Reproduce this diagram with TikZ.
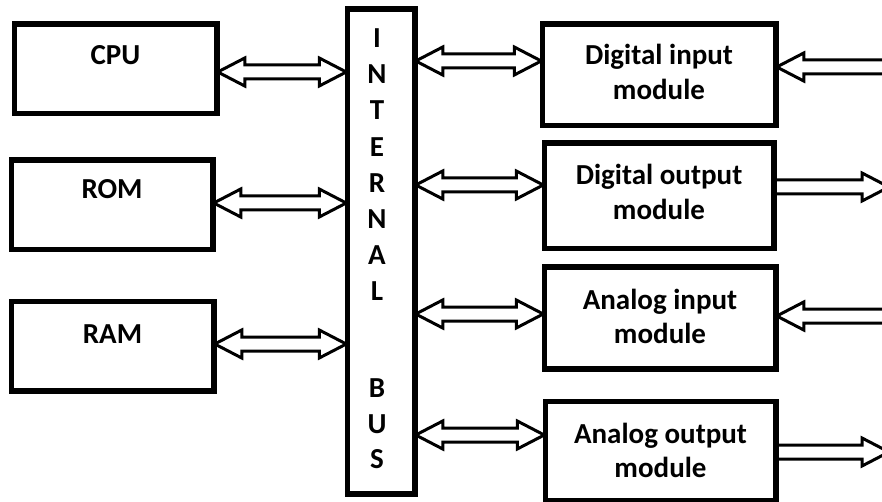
\documentclass[tikz,border=0pt]{standalone}
\usepackage{fontspec}
\setmainfont{Carlito}
\usetikzlibrary{calc}
\tikzset{
  box/.style={draw, line width=3.5pt, inner sep=0pt},
  lbl/.style={font=\fontsize{29}{35}\selectfont\bfseries, inner sep=0pt, anchor=base},
  dblarrow/.style={draw, line width=3pt, fill=white, line join=miter, miter limit=10,
    to path={let \p1=(\tikztostart), \p2=(\tikztotarget) in
      (\x1,\y1) -- ({\x1+27pt},{\y1+14pt}) -- ({\x1+27pt},{\y1+7pt}) -- ({\x2-27pt},{\y1+7pt})
      -- ({\x2-27pt},{\y1+14pt}) -- (\x2,\y1) -- ({\x2-27pt},{\y1-14pt}) -- ({\x2-27pt},{\y1-7pt})
      -- ({\x1+27pt},{\y1-7pt}) -- ({\x1+27pt},{\y1-14pt}) -- cycle}},
  sglarrow/.style={draw, line width=3pt, fill=white, line join=miter, miter limit=10,
    to path={let \p1=(\tikztostart), \p2=(\tikztotarget), \n1={sign(\x2-\x1)} in
      (\x1,{\y1+7pt}) -- ({\x2-(\n1)*27pt},{\y1+7pt}) -- ({\x2-(\n1)*27pt},{\y1+14pt}) -- (\x2,\y1)
      -- ({\x2-(\n1)*27pt},{\y1-14pt}) -- ({\x2-(\n1)*27pt},{\y1-7pt}) -- (\x1,{\y1-7pt})}}
}
\begin{document}
\begin{tikzpicture}[x=1pt,y=-1pt]
\useasboundingbox (0,0) rectangle (882,502);
\clip (0,0) rectangle (882,502);
% boxes
\node[box, minimum width=201pt, minimum height=88pt] (cpu) at (115.5,69) {};
\node[box, minimum width=200pt, minimum height=88pt] (rom) at (112,205) {};
\node[box, minimum width=201pt, minimum height=88pt] (ram) at (112.5,346) {};
\node[box, minimum width=66pt, minimum height=483pt] (bus) at (381,251.5) {};
\node[box, minimum width=232pt, minimum height=100pt] (di) at (659,75) {};
\node[box, minimum width=228pt, minimum height=104pt] (do) at (659,196) {};
\node[box, minimum width=230pt, minimum height=100pt] (ai) at (660,318) {};
\node[box, minimum width=229pt, minimum height=98pt] (ao) at (660.5,451) {};
% labels
\node[lbl] (tcpu) at (115.5,65) {CPU};
\node[lbl] (trom) at (112,199) {ROM};
\node[lbl] (tram) at (112.5,343) {RAM};
\node[lbl] (tdi1) at (659,65) {Digital input};
\node[lbl] (tdi2) at (659,100) {module};
\node[lbl] (tdo1) at (659,185) {Digital output};
\node[lbl] (tdo2) at (659,220) {module};
\node[lbl] (tai1) at (660,309) {Analog input};
\node[lbl] (tai2) at (660,343) {module};
\node[lbl] (tao1) at (660.5,443) {Analog output};
\node[lbl] (tao2) at (660.5,477) {module};
\foreach \c/\yy [count=\i] in {I/48,N/84,T/120,E/157,R/193,N/229,A/265,L/300,B/397,U/433,S/468}
  \node[lbl] (bl\i) at (377,\yy) {\c};
% left arrows
\draw[dblarrow] ($(cpu.east)+(0,3)$) to ($(cpu.east -| bus.west)+(0,3)$);
\draw[dblarrow] ($(rom.east)+(0,-2)$) to ($(rom.east -| bus.west)+(0,-2)$);
\draw[dblarrow] ($(ram.east)+(0,-2)$) to ($(ram.east -| bus.west)+(0,-2)$);
% right bus arrows
\draw[dblarrow] ($(bus.east |- di.west)+(0,-14)$) to ($(di.west)+(0,-14)$);
\draw[dblarrow] ($(bus.east |- do.west)+(0,-11)$) to ($(do.west)+(0,-11)$);
\draw[dblarrow] ($(bus.east |- ai.west)+(0,-4)$) to ($(ai.west)+(0,-4)$);
\draw[dblarrow] ($(bus.east |- ao.west)+(0,-16)$) to ($(ao.west)+(0,-16)$);
% external arrows
\coordinate (xdi) at (900,67);
\coordinate (xdo) at (889,187);
\coordinate (xai) at (900,316);
\coordinate (xao) at (889,452);
\draw[sglarrow] (xdi) to (di.east |- xdi);
\draw[sglarrow] (do.east |- xdo) to (xdo);
\draw[sglarrow] (xai) to (ai.east |- xai);
\draw[sglarrow] (ao.east |- xao) to (xao);
% redraw boxes on top
\foreach \n in {cpu,rom,ram,bus,di,do,ai,ao}
  \draw[line width=3.5pt] (\n.north west) rectangle (\n.south east);
\end{tikzpicture}
\end{document}
